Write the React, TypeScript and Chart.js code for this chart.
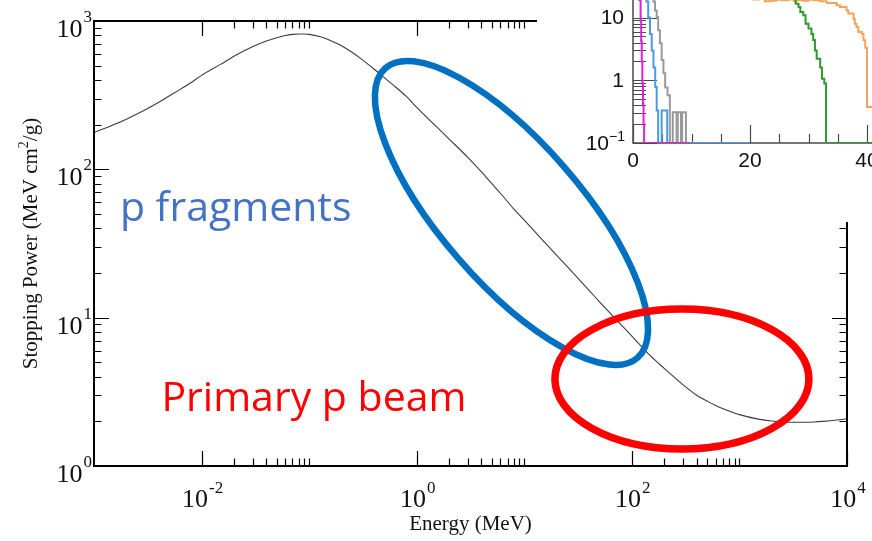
import React, { useEffect, useRef } from "react";
import { Chart, registerables } from "chart.js";

Chart.register(...registerables);

// Proton stopping power in water, MeV cm^2/g, against kinetic energy in MeV
const energyMeV = [
  0.001, 0.0015, 0.002, 0.003, 0.004, 0.005, 0.006, 0.008,
  0.01, 0.015, 0.02, 0.03, 0.04, 0.05, 0.06, 0.07, 0.08, 0.09,
  0.1, 0.125, 0.15, 0.2, 0.25, 0.3, 0.4, 0.5, 0.6, 0.8,
  1, 1.5, 2, 3, 4, 5, 6, 8,
  10, 15, 20, 30, 40, 50, 60, 80,
  100, 150, 200, 300, 400, 500, 600, 800,
  1000, 1500, 2000, 3000, 4000, 5000, 6000, 8000,
  10000,
];
const stoppingPower = [
  177, 199, 218, 252, 283, 312, 338, 385,
  430, 510, 578, 672, 733, 772, 798, 812, 818, 817,
  812, 785, 750, 680, 615, 560, 475, 415, 372, 310,
  262, 196, 160, 120, 96, 80, 69, 54,
  45.5, 33, 26.3, 19.2, 15.3, 12.8, 11.1, 8.9,
  7.5, 5.5, 4.55, 3.52, 3.0, 2.74, 2.56, 2.35,
  2.22, 2.07, 2.01, 1.97, 1.97, 1.98, 2.0, 2.04,
  2.08,
];

// Labelled decades of the main plot
const energyMajorTicks = [1e-2, 1, 1e2, 1e4];
const energyTickExponents = ["-2", "0", "2", "4"];
const powerMajorTicks = [1, 10, 100, 1000];
const powerTickExponents = ["0", "1", "2", "3"];

// Text callouts (anchored at energy / stopping power)
const calloutTexts = ["p fragments", "Primary p beam"];
const calloutEnergy = [0.00174, 0.00423];
const calloutPower = [44.9, 2.35];
const calloutColors = ["#4472C4", "#FF0000"];

// Highlight ellipses (centre in energy / stopping power)
const highlightEnergy = [7.6, 292];
const highlightPower = [50.8, 3.86];
const highlightColors = ["#0070C0", "#FF0000"];

// Inset histograms: bin left edges (x) and counts (y)
const magentaX = [1.1, 1.3, 1.4, 1.5, 1.6, 1.7, 1.8, 1.9, 2.0, 9.7];
const magentaY = [40, 19, 9, 4.2, 2.0, 0.9, 0.42, 0.2, 0.1, 0.1];

const blueX = [2.3, 2.6, 2.9, 3.2, 3.5, 3.8, 4.05, 4.3, 4.9, 5.85, 6.3, 20];
const blueY = [40, 18, 10, 5.5, 3.0, 1.6, 0.78, 0.33, 0.1, 0.33, 0.1, 0.1];

const grayX = [3.5, 3.76, 4.05, 4.3, 4.6, 4.9, 5.2, 5.5, 5.9, 6.3, 6.8, 7.45, 7.65, 8.2, 8.4, 9.05, 9.25];
const grayY = [40, 18, 13, 10.2, 6.3, 3.9, 2.1, 1.3, 0.77, 0.58, 0.1, 0.31, 0.1, 0.31, 0.1, 0.31, 0.1];

const greenX = [27.8, 28.3, 28.6, 29.1, 29.5, 30.0, 30.5, 30.8, 31.1, 31.4, 32.0, 32.3, 32.7, 33.0, 34.0, 60];
const greenY = [25, 16.7, 14.7, 12.3, 10.9, 8.0, 6.7, 5.5, 4.4, 3.0, 2.2, 1.6, 1.06, 0.89, 0.1, 0.1];

const orangeX = [18.5, 19.5, 20.5, 21.5, 22.5, 23.4, 24.5, 25.5, 26.5, 27.5, 28.0, 29.0, 30.0, 31.0, 32.0, 33.1, 34.8, 35.4, 36.5, 36.8, 37.7, 37.9, 38.2, 38.5, 39.1, 39.4, 39.7, 40.0, 40.25, 42];
const orangeY = [22, 20, 21, 19.5, 20, 18.2, 18.6, 19.2, 18.9, 19.5, 18.4, 19.0, 18.5, 19.2, 18.9, 18.2, 17.1, 15.7, 14.7, 13.0, 11.6, 9.6, 8.0, 7.1, 5.9, 5.55, 4.35, 3.3, 0.375, 0.375];

const insetXLabels = [0, 20, 40];
const insetYTicks = [0.1, 1, 10];
const insetYLabels = ["10", "1", "10"];

const SERIF = '"Liberation Serif", "Times New Roman", serif';
const SANS = '"Liberation Sans", Arial, sans-serif';

function drawPower(
  ctx: CanvasRenderingContext2D,
  exp: string,
  x: number,
  baseY: number,
  supY: number,
  align: "center" | "right",
  baseFont: string,
  supFont: string
) {
  ctx.font = baseFont;
  const wb = ctx.measureText("10").width;
  ctx.font = supFont;
  const ws = ctx.measureText(exp).width;
  const total = wb + 1 + ws;
  const x0 = align === "center" ? x - total / 2 : x - total;
  ctx.textAlign = "left";
  ctx.textBaseline = "alphabetic";
  ctx.font = baseFont;
  ctx.fillText("10", x0, baseY);
  ctx.font = supFont;
  ctx.fillText(exp, x0 + wb + 1, supY);
}

const mainFrame = {
  id: "mainFrame",
  afterDraw(chart: any) {
    const { ctx, chartArea: a } = chart;
    const xs = chart.scales.x;
    const ys = chart.scales.y;
    const MAJOR = 15;
    const MINOR = 7.5;
    ctx.save();

    // inward ticks on all four sides
    ctx.strokeStyle = "#000";
    ctx.lineWidth = 1.2;
    ctx.beginPath();
    const xTick = (v: number, len: number) => {
      const p = Math.round(xs.getPixelForValue(v)) + 0.5;
      ctx.moveTo(p, a.bottom);
      ctx.lineTo(p, a.bottom - len);
      ctx.moveTo(p, a.top);
      ctx.lineTo(p, a.top + len);
    };
    const yTick = (v: number, len: number) => {
      const p = Math.round(ys.getPixelForValue(v)) + 0.5;
      ctx.moveTo(a.left, p);
      ctx.lineTo(a.left + len, p);
      ctx.moveTo(a.right, p);
      ctx.lineTo(a.right - len, p);
    };
    energyMajorTicks.forEach((m, i) => {
      xTick(m, MAJOR);
      if (i < energyMajorTicks.length - 1) {
        for (let k = 2; k <= 10; k++) xTick(k * m, MINOR);
      }
    });
    powerMajorTicks.forEach((m, i) => {
      yTick(m, MAJOR);
      if (i < powerMajorTicks.length - 1) {
        for (let k = 2; k <= 9; k++) yTick(k * m, MINOR);
      }
    });
    ctx.stroke();

    // frame
    ctx.lineWidth = 2;
    ctx.strokeRect(a.left, a.top, a.right - a.left, a.bottom - a.top);

    // tick labels
    ctx.fillStyle = "#111";
    const baseFont = `26px ${SERIF}`;
    const supFont = `17px ${SERIF}`;
    energyMajorTicks.forEach((m, i) => {
      const p = xs.getPixelForValue(m);
      drawPower(ctx, energyTickExponents[i], p + 1, a.bottom + 41, a.bottom + 27, "center", baseFont, supFont);
    });
    powerMajorTicks.forEach((m, i) => {
      const p = ys.getPixelForValue(m);
      drawPower(ctx, powerTickExponents[i], a.left - 2, p + 16, p + 1, "right", baseFont, supFont);
    });

    // axis titles
    ctx.font = `21px ${SERIF}`;
    ctx.textAlign = "center";
    ctx.textBaseline = "alphabetic";
    ctx.fillText("Energy (MeV)", (a.left + a.right) / 2, a.bottom + 64);

    ctx.save();
    ctx.translate(a.left - 57, (a.top + a.bottom) / 2);
    ctx.rotate(-Math.PI / 2);
    const t1 = "Stopping Power (MeV cm";
    const t2 = "2";
    const t3 = "/g)";
    ctx.font = `21px ${SERIF}`;
    const w1 = ctx.measureText(t1).width;
    const w3 = ctx.measureText(t3).width;
    ctx.font = `14px ${SERIF}`;
    const w2 = ctx.measureText(t2).width;
    let x0 = -(w1 + w2 + w3) / 2;
    ctx.textAlign = "left";
    ctx.font = `21px ${SERIF}`;
    ctx.fillText(t1, x0, 0);
    x0 += w1;
    ctx.font = `14px ${SERIF}`;
    ctx.fillText(t2, x0, -9);
    x0 += w2;
    ctx.font = `21px ${SERIF}`;
    ctx.fillText(t3, x0, 0);
    ctx.restore();

    // callouts
    ctx.font = `41px "Open Sans", "Noto Sans", sans-serif`;
    ctx.textAlign = "left";
    ctx.textBaseline = "alphabetic";
    calloutTexts.forEach((t, i) => {
      ctx.fillStyle = calloutColors[i];
      ctx.fillText(t, xs.getPixelForValue(calloutEnergy[i]), ys.getPixelForValue(calloutPower[i]));
    });

    ctx.restore();
  },
};

const insetFrame = {
  id: "insetFrame",
  beforeDatasetsDraw(chart: any) {
    const { ctx, chartArea: a } = chart;
    const xs = chart.scales.x;
    const ys = chart.scales.y;
    ctx.save();
    ctx.strokeStyle = "#4a4a4a";
    ctx.lineWidth = 1.5;
    ctx.beginPath();
    ctx.moveTo(a.left, a.top);
    ctx.lineTo(a.left, a.bottom);
    ctx.lineTo(a.right, a.bottom);
    ctx.stroke();

    ctx.lineWidth = 1.2;
    ctx.beginPath();
    for (let v = 0; v <= 60; v += 5) {
      const p = Math.round(xs.getPixelForValue(v)) + 0.5;
      const len = v % 20 === 0 ? 18 : 9;
      ctx.moveTo(p, a.bottom);
      ctx.lineTo(p, a.bottom - len);
    }
    [0.1, 1, 10].forEach((d) => {
      const pm = Math.round(ys.getPixelForValue(d)) + 0.5;
      ctx.moveTo(a.left, pm);
      ctx.lineTo(a.left + 24, pm);
      for (let k = 2; k <= 9; k++) {
        const p = Math.round(ys.getPixelForValue(k * d)) + 0.5;
        ctx.moveTo(a.left, p);
        ctx.lineTo(a.left + 13, p);
      }
    });
    ctx.stroke();
    ctx.restore();
  },
  afterDraw(chart: any) {
    const { ctx, chartArea: a } = chart;
    const xs = chart.scales.x;
    const ys = chart.scales.y;
    ctx.save();
    ctx.fillStyle = "#111";
    ctx.font = `21px ${SANS}`;
    ctx.textAlign = "center";
    ctx.textBaseline = "alphabetic";
    insetXLabels.forEach((v) => {
      ctx.fillText(String(v), xs.getPixelForValue(v), a.bottom + 24);
    });
    ctx.textAlign = "right";
    ctx.textBaseline = "middle";
    insetYTicks.forEach((v, i) => {
      const p = ys.getPixelForValue(v);
      if (v < 1) {
        ctx.font = `14px ${SANS}`;
        const ws = ctx.measureText("\u22121").width;
        ctx.fillText("\u22121", a.left - 8, p - 6);
        ctx.font = `21px ${SANS}`;
        ctx.fillText(insetYLabels[i], a.left - 8 - ws, p + 1);
      } else {
        ctx.font = `21px ${SANS}`;
        ctx.fillText(insetYLabels[i], a.left - 9, p + 1);
      }
    });
    ctx.restore();
  },
};

function toPoints(xs: number[], ys: number[]) {
  return xs.map((x, i) => ({ x, y: ys[i] }));
}

function histogram(label: string, xs: number[], ys: number[], color: string) {
  return {
    label,
    data: toPoints(xs, ys),
    borderColor: color,
    backgroundColor: color,
    borderWidth: 2,
    pointRadius: 0,
    stepped: "after" as const,
    fill: false,
  };
}

function drawHighlights(canvas: HTMLCanvasElement, chart: any) {
  const ctx = canvas.getContext("2d");
  if (!ctx) return;
  ctx.clearRect(0, 0, canvas.width, canvas.height);
  const xs = chart.scales.x;
  const ys = chart.scales.y;
  const radii = [
    [192, 70],
    [127, 70],
  ];
  const tilt = [(49 * Math.PI) / 180, 0];
  const widths = [6.5, 7.5];
  highlightEnergy.forEach((e, i) => {
    const cx = xs.getPixelForValue(e);
    const cy = ys.getPixelForValue(highlightPower[i]);
    ctx.beginPath();
    ctx.ellipse(cx, cy, radii[i][0], radii[i][1], tilt[i], 0, Math.PI * 2);
    ctx.strokeStyle = highlightColors[i];
    ctx.lineWidth = widths[i];
    ctx.stroke();
  });
}

export default function App() {
  const mainRef = useRef<HTMLCanvasElement>(null);
  const insetRef = useRef<HTMLCanvasElement>(null);
  const overlayRef = useRef<HTMLCanvasElement>(null);

  useEffect(() => {
    if (!mainRef.current || !insetRef.current || !overlayRef.current) return;

    const main = new Chart(mainRef.current, {
      type: "line",
      data: {
        datasets: [
          {
            label: "Stopping power",
            data: toPoints(energyMeV, stoppingPower),
            borderColor: "#3c3c3c",
            borderWidth: 1.1,
            pointRadius: 0,
            cubicInterpolationMode: "monotone",
            fill: false,
          },
        ],
      },
      options: {
        responsive: false,
        animation: false,
        devicePixelRatio: 1,
        events: [],
        layout: { padding: { left: 94, right: 25, top: 21, bottom: 75 } },
        scales: {
          x: { type: "logarithmic", min: 0.001, max: 10000, display: false },
          y: { type: "logarithmic", min: 1, max: 1000, display: false },
        },
        plugins: { legend: { display: false }, tooltip: { enabled: false } },
      },
      plugins: [mainFrame],
    });

    const inset = new Chart(insetRef.current, {
      type: "line",
      data: {
        datasets: [
          histogram("magenta", magentaX, magentaY, "#E21FD8"),
          histogram("blue", blueX, blueY, "#4A9BE0"),
          histogram("gray", grayX, grayY, "#9A9A9A"),
          histogram("green", greenX, greenY, "#2E9B2E"),
          histogram("orange", orangeX, orangeY, "#F0A55A"),
        ],
      },
      options: {
        responsive: false,
        animation: false,
        devicePixelRatio: 1,
        events: [],
        layout: { padding: { left: 96, right: 10, top: 4.9, bottom: 41 } },
        scales: {
          x: { type: "linear", min: 0, max: 60, display: false },
          y: { type: "logarithmic", min: 0.1, max: 100, display: false },
        },
        plugins: { legend: { display: false }, tooltip: { enabled: false } },
      },
      plugins: [insetFrame],
    });

    drawHighlights(overlayRef.current, main);

    return () => {
      main.destroy();
      inset.destroy();
    };
  }, []);

  return (
    <div
      style={{
        position: "fixed",
        left: 0,
        top: 0,
        width: 872,
        height: 541,
        background: "#fff",
        overflow: "hidden",
      }}
    >
      <canvas
        ref={mainRef}
        width={872}
        height={541}
        style={{ position: "absolute", left: 0, top: 0 }}
      />
      <div
        style={{
          position: "absolute",
          left: 537,
          top: 0,
          width: 335,
          height: 222,
          background: "#fff",
          overflow: "hidden",
        }}
      >
        <canvas
          ref={insetRef}
          width={457}
          height={234}
          style={{ position: "absolute", left: 0, top: -50 }}
        />
      </div>
      <canvas
        ref={overlayRef}
        width={872}
        height={541}
        style={{ position: "absolute", left: 0, top: 0, pointerEvents: "none" }}
      />
    </div>
  );
}
